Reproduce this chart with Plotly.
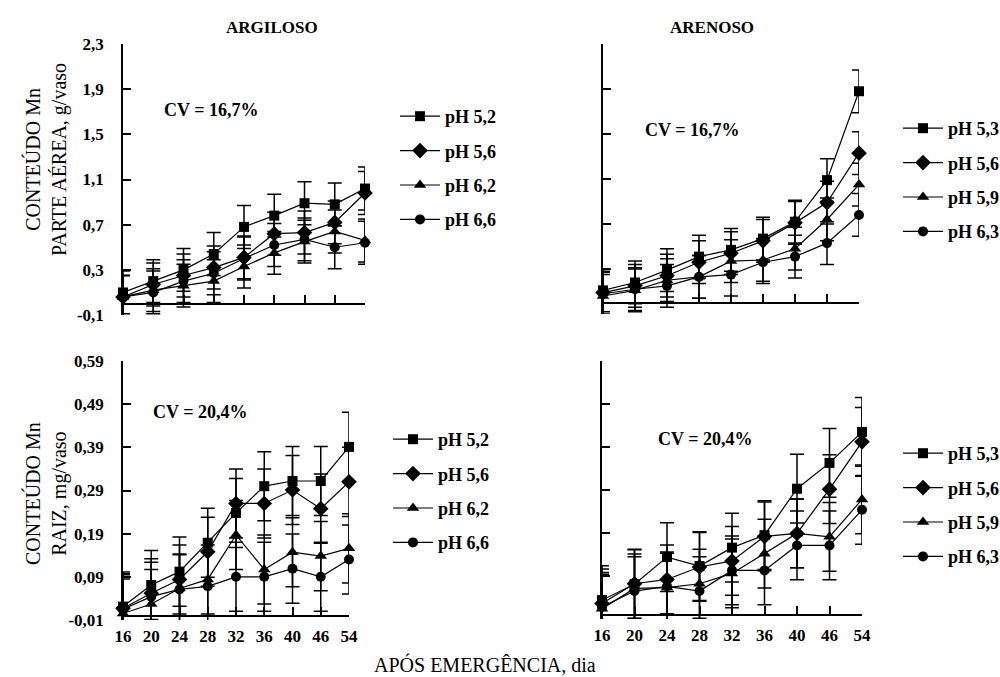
import plotly.graph_objects as go

# ---------------- data ----------------
days = ["16", "20", "24", "28", "32", "36", "40", "46", "54"]

# Top: CONTEÚDO Mn PARTE AÉREA (g/vaso)
arg_top_labels = ["pH 5,2", "pH 5,6", "pH 6,2", "pH 6,6"]
arg_top_52 = [0.10, 0.20, 0.30, 0.44, 0.68, 0.78, 0.89, 0.88, 1.02]
arg_top_56 = [0.06, 0.17, 0.25, 0.32, 0.41, 0.62, 0.63, 0.72, 0.98]
arg_top_62 = [0.06, 0.12, 0.16, 0.20, 0.33, 0.45, 0.55, 0.64, 0.56]
arg_top_66 = [0.06, 0.10, 0.20, 0.27, 0.40, 0.52, 0.57, 0.50, 0.54]

are_top_labels = ["pH 5,3", "pH 5,6", "pH 5,9", "pH 6,3"]
are_top_53 = [0.11, 0.18, 0.29, 0.41, 0.47, 0.57, 0.72, 1.09, 1.88]
are_top_56 = [0.09, 0.15, 0.24, 0.36, 0.44, 0.55, 0.71, 0.89, 1.33]
are_top_59 = [0.06, 0.11, 0.20, 0.23, 0.37, 0.38, 0.48, 0.74, 1.05]
are_top_63 = [0.08, 0.12, 0.15, 0.23, 0.25, 0.36, 0.41, 0.53, 0.78]

# Bottom: CONTEÚDO Mn RAIZ (mg/vaso)
arg_bot_52 = [0.021, 0.071, 0.102, 0.169, 0.238, 0.300, 0.312, 0.312, 0.391]
arg_bot_56 = [0.017, 0.052, 0.084, 0.148, 0.260, 0.260, 0.291, 0.248, 0.310]
arg_bot_62 = [0.005, 0.027, 0.063, 0.084, 0.187, 0.107, 0.147, 0.138, 0.156]
arg_bot_66 = [0.015, 0.044, 0.061, 0.068, 0.090, 0.090, 0.109, 0.090, 0.130]

are_bot_53 = [0.034, 0.071, 0.134, 0.113, 0.156, 0.185, 0.293, 0.353, 0.425]
are_bot_56 = [0.026, 0.072, 0.082, 0.111, 0.125, 0.182, 0.189, 0.292, 0.402]
are_bot_59 = [0.014, 0.061, 0.063, 0.072, 0.096, 0.142, 0.189, 0.181, 0.268]
are_bot_63 = [0.018, 0.055, 0.066, 0.055, 0.103, 0.103, 0.161, 0.161, 0.244]

err_top = 0.19
err_bot = 0.08

cv_top = "CV = 16,7%"
cv_bot = "CV = 20,4%"

top_ticks = [-0.1, 0.3, 0.7, 1.1, 1.5, 1.9, 2.3]
top_ticktext = ["-0,1", "0,3", "0,7", "1,1", "1,5", "1,9", "2,3"]
bot_ticks = [-0.01, 0.09, 0.19, 0.29, 0.39, 0.49, 0.59]
bot_ticktext = ["-0,01", "0,09", "0,19", "0,29", "0,39", "0,49", "0,59"]

# ---------------- styling ----------------
FONT = "Liberation Serif"
W, H = 1000, 677
symbols = ["square", "diamond", "triangle-up", "circle"]
msizes = [10, 12, 11, 10]


def px_x(p):
    return p / W


def px_y(p):
    return 1 - p / H


panels = [
    ("x", "y", "legend", [arg_top_52, arg_top_56, arg_top_62, arg_top_66], arg_top_labels,
     err_top, (123, 365), (44, 315), (-0.1, 2.3), top_ticks, top_ticktext, True, False),
    ("x2", "y2", "legend2", [are_top_53, are_top_56, are_top_59, are_top_63], are_top_labels,
     err_top, (603, 859), (44, 314), (-0.1, 2.3), top_ticks, top_ticktext, False, False),
    ("x3", "y3", "legend3", [arg_bot_52, arg_bot_56, arg_bot_62, arg_bot_66], arg_top_labels,
     err_bot, (123, 349), (361, 620), (-0.01, 0.59), bot_ticks, bot_ticktext, True, True),
    ("x4", "y4", "legend4", [are_bot_53, are_bot_56, are_bot_59, are_bot_63], are_top_labels,
     err_bot, (602, 862), (361, 619), (-0.01, 0.59), bot_ticks, bot_ticktext, False, True),
]

fig = go.Figure()
layout = {}

# top-left corner of each legend box, in pixels
legend_pos = {
    "legend": (395, 98),
    "legend2": (898, 110),
    "legend3": (388, 421),
    "legend4": (898, 435),
}

for (xa, ya, lg, series, labels, err, dx, dy, yr, tv, tt, ylabels, xlabels) in panels:
    for i, (vals, name) in enumerate(zip(series, labels)):
        fig.add_trace(go.Scatter(
            x=days, y=vals, name=name, mode="lines+markers",
            xaxis=xa, yaxis=ya, legend=lg, legendgroup=lg + str(i),
            line=dict(color="black", width=1.2),
            marker=dict(symbol=symbols[i], size=msizes[i], color="black"),
            error_y=dict(type="constant", value=err, color="black",
                         thickness=1.5, width=7),
            cliponaxis=False,
        ))
    xkey = "xaxis" + xa[1:]
    ykey = "yaxis" + ya[1:]
    d0, d1 = px_y(dy[1]), px_y(dy[0])
    zero_pos = d0 + (0 - yr[0]) / (yr[1] - yr[0]) * (d1 - d0)
    layout[xkey] = dict(
        type="category", range=[0, 8], domain=[px_x(dx[0]), px_x(dx[1])],
        anchor="free", position=zero_pos, automargin=False,
        showline=True, linecolor="black", linewidth=1.5,
        ticks="inside", ticklen=8, tickwidth=1.5, tickcolor="black",
        showticklabels=xlabels, ticklabelstandoff=5,
        tickfont=dict(family=FONT, size=17, color="black", weight="bold"),
        showgrid=False, zeroline=False, fixedrange=True,
    )
    layout[ykey] = dict(
        range=[yr[0] - 1e-6, yr[1] + 1e-6], domain=[d0, d1], anchor=xa, automargin=False,
        showline=True, linecolor="black", linewidth=1.5,
        ticks="inside", ticklen=8, tickwidth=1.5, tickcolor="black",
        tickvals=tv, ticktext=tt, showticklabels=ylabels, ticklabelstandoff=14,
        tickfont=dict(family=FONT, size=17, color="black", weight="bold"),
        showgrid=False, zeroline=False, fixedrange=True,
    )
    lx, ly = legend_pos[lg]
    layout[lg] = dict(
        x=px_x(lx), y=px_y(ly), xanchor="left", yanchor="top",
        bgcolor="rgba(0,0,0,0)", borderwidth=0, tracegroupgap=8, itemwidth=40,
        font=dict(family=FONT, size=18, color="black", weight="bold"),
    )

annotations = [
    dict(text="ARGILOSO", x=px_x(272), y=px_y(27), size=17),
    dict(text="ARENOSO", x=px_x(712), y=px_y(27), size=17),
    dict(text=cv_top, x=px_x(211), y=px_y(110), size=18),
    dict(text=cv_top, x=px_x(692), y=px_y(130), size=18),
    dict(text=cv_bot, x=px_x(200), y=px_y(412), size=18),
    dict(text=cv_bot, x=px_x(705), y=px_y(439), size=18),
]
for a in annotations:
    s = a.pop("size")
    a.update(xref="paper", yref="paper", showarrow=False, xanchor="center", yanchor="middle",
             font=dict(family=FONT, size=s, color="black", weight="bold"))

titles = [
    dict(text="CONTEÚDO Mn<br>PARTE AÉREA, g/vaso", x=px_x(46), y=px_y(160), textangle=-90),
    dict(text="CONTEÚDO Mn<br>RAIZ, mg/vaso", x=px_x(46), y=px_y(494), textangle=-90),
    dict(text="APÓS EMERGÊNCIA, dia", x=px_x(485), y=px_y(664)),
]
for a in titles:
    a.update(xref="paper", yref="paper", showarrow=False, xanchor="center", yanchor="middle",
             font=dict(family=FONT, size=20, color="black"))
annotations += titles

fig.update_layout(
    template="none",
    width=W, height=H, margin=dict(l=0, r=0, t=0, b=0, pad=0, autoexpand=False),
    paper_bgcolor="white", plot_bgcolor="white",
    showlegend=True, annotations=annotations, **layout,
)

fig.write_html(
    "out.html",
    config={"displayModeBar": False},
    post_script="document.body.style.margin='0px';document.body.style.overflow='hidden';",
)
